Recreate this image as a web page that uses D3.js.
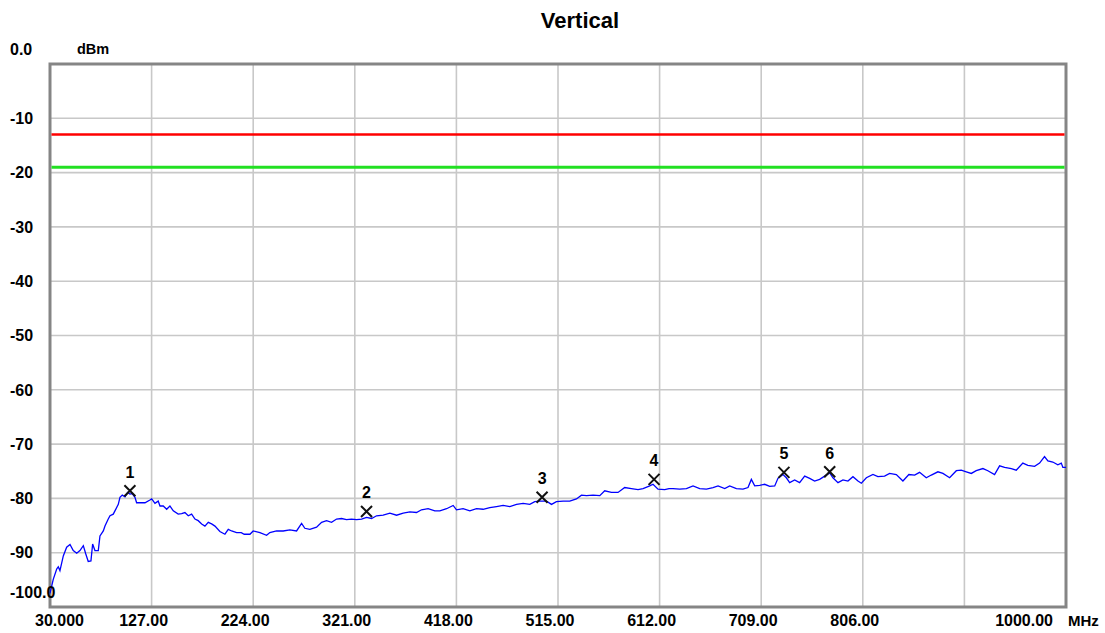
<!DOCTYPE html>
<html>
<head>
<meta charset="utf-8">
<script src="https://cdn.jsdelivr.net/npm/d3@7"></script>
<style>
    body { margin: 0; background: white; }
    text { font-family: "Liberation Sans", Arial, sans-serif; font-weight: bold; }
</style>
</head>
<body>
<script>
const width = 1105;
const height = 633;

// frequency grid (MHz) and labels; 903 has no label in the original
const xTicks = [30, 127, 224, 321, 418, 515, 612, 709, 806, 903, 1000];
const xTickLabels = ["30.000", "127.00", "224.00", "321.00", "418.00", "515.00", "612.00", "709.00", "806.00", "", "1000.00"];
const yTicks = [0, -10, -20, -30, -40, -50, -60, -70, -80, -90, -100];
const yTickLabels = ["0.0", "-10", "-20", "-30", "-40", "-50", "-60", "-70", "-80", "-90", "-100.0"];

// limit lines
const limitDbm = [-13, -19];
const limitColors = ["#ff0000", "#22e022"];

// trace
const traceMHz = [
    30.0, 33.1, 36.4, 37.9, 39.5, 42.7, 45.9, 49.1, 52.2, 55.5, 58.6, 61.8, 64.1, 66.5, 69.1, 70.7, 72.9, 76.1, 77.7, 80.9,
    82.5, 85.6, 87.3, 90.4, 92.0, 95.2, 96.8, 99.0, 101.6, 104.1, 106.3, 108.5, 111.1, 112.7, 115.9, 120.7, 125.4, 127.1, 130.2, 133.3,
    135.0, 138.1, 141.4, 144.5, 147.7, 152.4, 155.7, 158.8, 162.0, 165.2, 168.4, 171.5, 174.8, 177.9, 181.1, 184.3, 187.5, 192.2, 197.0, 200.2,
    203.4, 208.2,
    212.6, 215.4, 220.9, 224.0, 230.4, 236.8, 239.9, 246.3, 252.6, 259.0, 265.4, 270.2, 273.3, 278.1, 284.5, 289.3, 294.0, 298.8, 303.6, 308.4,
    313.1, 317.9, 322.7, 327.5, 332.2, 337.0, 341.8, 348.1, 354.5, 360.9, 367.2, 373.6, 379.9, 384.7, 391.0, 397.4, 402.2, 408.6, 414.9,
    418.1, 424.4, 430.8, 437.2, 443.5, 449.9, 456.3, 462.6, 469.0, 475.4, 481.7, 488.1, 492.8, 497.6, 504.0, 508.8, 513.5, 519.9, 526.2, 532.6,
    537.4, 542.2, 548.5, 554.9, 559.6, 566.0, 572.3, 578.7, 585.1, 591.4, 596.2, 602.6, 605.7, 610.5, 616.9, 621.0,
    624.8, 631.2, 637.6, 643.9, 650.3, 656.7, 663.0, 667.8, 674.2, 678.9, 685.3, 691.6, 696.4, 699.6, 702.8, 707.6, 712.3, 717.1, 721.9, 725.0,
    729.8, 733.0, 736.2, 740.9, 745.7, 750.5, 755.3, 760.0, 764.8, 769.6, 774.4, 777.5, 782.3, 787.1, 791.8, 796.6, 801.4, 804.6, 809.4, 815.7,
    820.4,
    826.8, 831.6, 838.0, 844.3, 850.0, 855.5, 860.2, 866.6, 871.4, 877.7, 882.5, 888.9, 895.3, 900.0, 904.8, 909.6, 914.3, 920.7, 925.4, 931.8,
    936.6, 941.4, 947.8, 952.5, 958.8, 963.6, 970.0, 974.8, 979.5, 982.7, 987.4, 992.2, 995.5, 997.0, 1000.0
];
const traceDbm = [
    -97.5, -94.9, -93.0, -92.6, -93.3, -90.6, -89.0, -88.5, -89.6, -90.1, -89.6, -88.7, -90.2, -91.6, -91.5, -88.4, -89.6, -89.6, -86.9, -86.0,
    -85.1, -83.8, -83.2, -82.9, -82.3, -81.1, -79.8, -79.4, -79.7, -78.9, -79.2, -79.1, -79.8, -80.8, -80.8, -80.8, -80.3, -80.1, -80.9, -80.5,
    -81.4, -81.4, -82.0, -81.4, -82.3, -82.9, -82.8, -82.6, -83.2, -82.9, -83.8, -84.1, -84.7, -85.1, -84.4, -84.7, -85.1, -86.1, -86.6, -85.7,
    -86.0, -86.3,
    -86.3, -86.6, -86.6, -86.0, -86.3, -86.8, -86.3, -86.0, -86.0, -85.8, -86.0, -84.6, -85.5, -85.7, -85.3, -84.4, -84.1, -84.4, -83.8, -83.7,
    -83.9, -83.8, -83.9, -83.8, -83.5, -83.7, -83.2, -83.1, -82.7, -83.1, -82.7, -82.5, -82.6, -82.1, -81.9, -82.3, -82.3, -81.9, -81.3,
    -82.1, -81.9, -82.3, -81.9, -82.0, -81.7, -81.5, -81.3, -81.5, -81.1, -80.9, -81.1, -80.6, -80.5, -80.5, -81.1, -80.6, -80.5, -80.5, -80.1,
    -79.4, -79.5, -79.4, -79.5, -78.6, -78.9, -78.9, -78.0, -78.2, -78.4, -78.2, -77.7, -77.4, -78.3, -78.4, -78.2,
    -78.2, -78.3, -78.2, -77.7, -78.2, -78.3, -78.0, -77.7, -78.2, -77.7, -78.2, -78.3, -78.0, -76.5, -77.7, -77.6, -77.4, -77.8, -77.7, -76.3,
    -75.6, -76.2, -77.1, -76.6, -77.1, -75.9, -76.3, -76.8, -76.5, -75.9, -75.3, -76.2, -77.1, -76.6, -76.8, -76.0, -76.8, -77.2, -76.2, -75.6,
    -76.0,
    -75.9, -75.4, -75.6, -76.8, -75.6, -75.7, -75.2, -76.2, -75.7, -75.1, -75.4, -76.2, -74.9, -74.8, -75.1, -75.4, -74.9, -74.5, -74.9, -75.6,
    -74.0, -74.3, -74.5, -74.8, -73.5, -73.9, -74.1, -73.5, -72.3, -73.1, -73.3, -73.8, -73.5, -74.3, -74.3
];

// peak markers
const markerIds = ["1", "2", "3", "4", "5", "6"];
const markerMHz = [106.3, 332.2, 499.8, 606.7, 730.7, 774.4];
const markerDbm = [-78.6, -82.4, -79.8, -76.5, -75.2, -75.1];

let x = d3.scaleLinear().domain([30, 1000]).range([50, 1066]);
let y = d3.scaleLinear().domain([-100, 0]).range([607, 64]);

let svg = d3.select("body")
    .append("svg")
    .attr("width", width)
    .attr("height", height)
    .style("background", "white");

svg.append("text")
    .attr("x", 580)
    .attr("y", 28)
    .attr("text-anchor", "middle")
    .attr("font-size", 22)
    .attr("fill", "#000")
    .text("Vertical");

// grid
svg.append("g")
    .selectAll("line")
    .data(xTicks.slice(1, -1))
    .enter()
    .append("line")
    .attr("x1", (d)=>x(d)).attr("x2", (d)=>x(d))
    .attr("y1", y(0)).attr("y2", y(-100))
    .attr("stroke", "#c8c8c8")
    .attr("stroke-width", 1.6);

svg.append("g")
    .selectAll("line")
    .data(yTicks.slice(1, -1))
    .enter()
    .append("line")
    .attr("x1", x(30)).attr("x2", x(1000))
    .attr("y1", (d)=>y(d)).attr("y2", (d)=>y(d))
    .attr("stroke", "#c8c8c8")
    .attr("stroke-width", 1.6);

// frame
svg.append("rect")
    .attr("x", x(30))
    .attr("y", y(0))
    .attr("width", x(1000) - x(30))
    .attr("height", y(-100) - y(0))
    .attr("fill", "none")
    .attr("stroke", "#858585")
    .attr("stroke-width", 3);

// limit lines
svg.append("g")
    .selectAll("line")
    .data(limitDbm)
    .enter()
    .append("line")
    .attr("x1", x(30) + 1.5).attr("x2", x(1000) - 1.5)
    .attr("y1", (d)=>y(d)).attr("y2", (d)=>y(d))
    .attr("stroke", (d, i)=>limitColors[i])
    .attr("stroke-width", (d, i)=>i == 0 ? 2.5 : 3);

// trace
let line = d3.line()
    .x((d)=>x(d[0]))
    .y((d)=>y(d[1]));

svg.append("path")
    .datum(traceMHz.map((f, i)=>[f, traceDbm[i]]))
    .attr("d", line)
    .attr("fill", "none")
    .attr("stroke", "#0000ff")
    .attr("stroke-width", 1.3);

// y labels
svg.append("g")
    .attr("font-size", 16)
    .selectAll("text")
    .data(yTicks)
    .enter()
    .append("text")
    .attr("x", 10)
    .attr("y", (d, i)=>y(d) + (i == 0 || i == yTicks.length - 1 ? -15 : 0))
    .attr("dy", "0.36em")
    .text((d, i)=>yTickLabels[i]);

svg.append("text")
    .attr("x", 77)
    .attr("y", 54)
    .attr("font-size", 14.5)
    .text("dBm");

// x labels
svg.append("g")
    .attr("font-size", 16)
    .selectAll("text")
    .data(xTicks)
    .enter()
    .append("text")
    .attr("x", (d, i)=>x(d) + (i == 0 ? -15 : i == xTicks.length - 1 ? -13 : -8))
    .attr("y", 626)
    .attr("text-anchor", (d, i)=>i == 0 ? "start" : i == xTicks.length - 1 ? "end" : "middle")
    .text((d, i)=>xTickLabels[i]);

svg.append("text")
    .attr("x", 1068)
    .attr("y", 626)
    .attr("font-size", 15)
    .text("MHz");

// markers
let markers = svg.append("g")
    .selectAll("g")
    .data(markerIds)
    .enter()
    .append("g")
    .attr("transform", (d, i)=>"translate(" + x(markerMHz[i]) + "," + y(markerDbm[i]) + ")");

markers.append("path")
    .attr("d", "M-5.5,-5.5L5.5,5.5M5.5,-5.5L-5.5,5.5")
    .attr("stroke", "#111")
    .attr("stroke-width", 2)
    .attr("fill", "none");

markers.append("text")
    .attr("y", -13)
    .attr("text-anchor", "middle")
    .attr("font-size", 16)
    .text((d)=>d);
</script>
</body>
</html>
